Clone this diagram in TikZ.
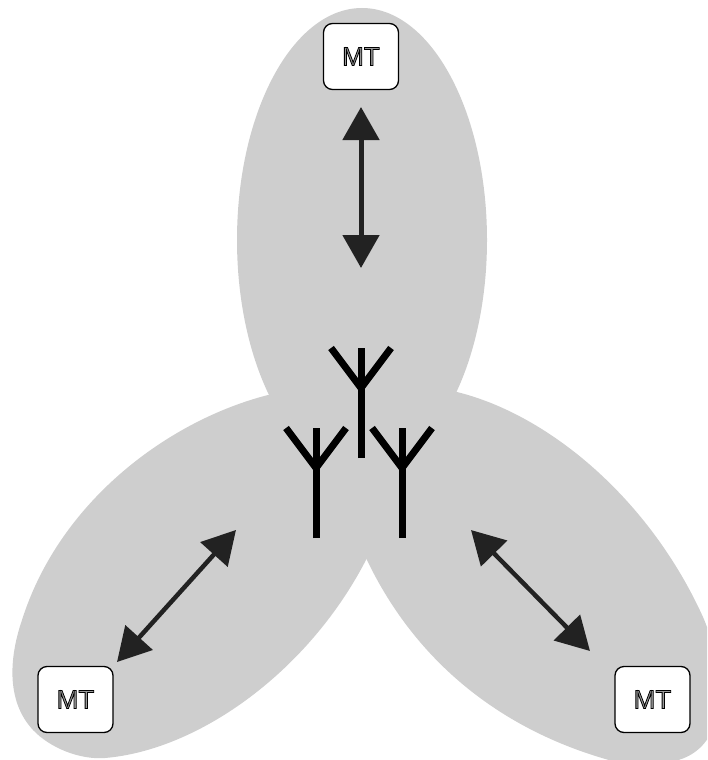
\documentclass[tikz,border=0pt]{standalone}
\usepackage{fontspec}
\setmainfont{Liberation Sans}
\usepackage{xcolor}
\usetikzlibrary{arrows.meta}
\definecolor{cellgray}{HTML}{CECECE}
\definecolor{linkgray}{HTML}{222222}
\newcommand{\outlined}[1]{\special{pdf:literal direct 2 Tr 0.8 w 0.6 g 0 G}#1\special{pdf:literal direct 0 Tr 0 g 0 G}}
\tikzset{
  cell/.style={fill=cellgray,draw=none},
  terminal/.style={draw=black,line width=1.3pt,fill=white,rounded corners=9pt,minimum width=75pt,minimum height=66pt,inner sep=0pt,font=\fontsize{26}{28}\selectfont},
  link/.style={draw=linkgray,{Triangle[length=33pt,width=36pt]}-{Triangle[length=33pt,width=36pt]}},
  antenna/.pic={
    \draw[line width=7pt,black] (0,0) -- (0,110);
    \draw[line width=7pt,black,miter limit=10] (-30,110) -- (0,70) -- (30,110);
  }
}
\begin{document}
\begin{tikzpicture}[x=1pt,y=-1pt]
\path[use as bounding box,clip] (0,0) rectangle (707,760);
% coverage areas
\fill[cell] (362,240) ellipse[x radius=125,y radius=232];
\fill[cell] (268,395) .. controls (170,420) and (60,500) .. (22,620)
  .. controls (10,655) and (5,700) .. (33,730)
  .. controls (50,748) and (80,760) .. (105,758)
  .. controls (200,750) and (310,670) .. (367,558)
  .. controls (410,470) and (320,382) .. (268,395) -- cycle;
\fill[cell] (457,392) .. controls (550,415) and (650,500) .. (703,617)
  .. controls (730,680) and (730,760) .. (660,763)
  .. controls (648,765) and (634,765) .. (620,763)
  .. controls (510,735) and (418,668) .. (366,558)
  .. controls (335,492) and (400,378) .. (457,392) -- cycle;
% terminals
\node[terminal] (mtTop) at (361,56.5) {\outlined{MT}};
\node[terminal] (mtLeft) at (75.5,699.5) {\outlined{MT}};
\node[terminal] (mtRight) at (652.5,699.5) {\outlined{MT}};
% antennas
\pic at (361,458) [yscale=-1] {antenna};
\pic at (316,538) [yscale=-1] {antenna};
\pic at (402,538) [yscale=-1] {antenna};
% links
\coordinate (topIn) at (361,268);
\coordinate (topOut) at (361,107);
\coordinate (leftIn) at (236,530);
\coordinate (leftOut) at (117,662);
\coordinate (rightIn) at (471,530);
\coordinate (rightOut) at (590,651);
\draw[link,line width=5pt] (topOut) -- (topIn);
\draw[link,line width=4.5pt] (leftOut) -- (leftIn);
\draw[link,line width=4.5pt] (rightOut) -- (rightIn);
\end{tikzpicture}
\end{document}
